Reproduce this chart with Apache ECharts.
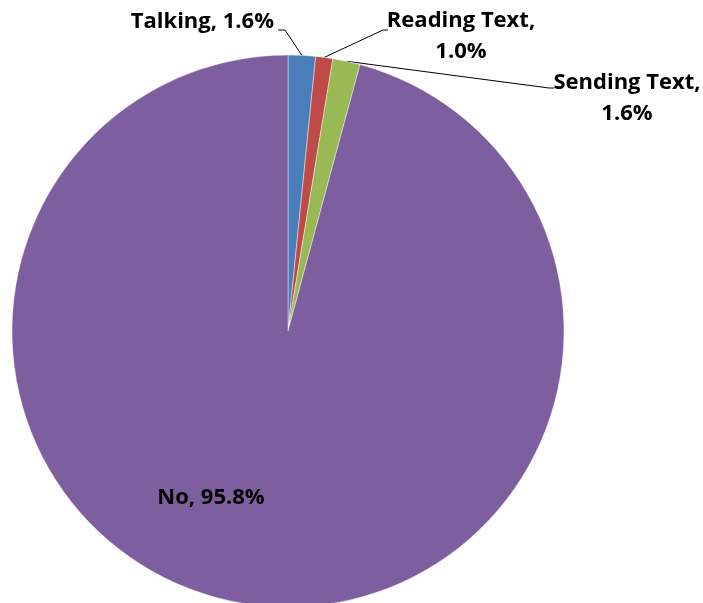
<!DOCTYPE html>
<html>
<head>
<meta charset="utf-8">
<script src="https://cdn.jsdelivr.net/npm/echarts@6/dist/echarts.min.js"></script>
<style>html,body{margin:0;padding:0;background:#fff}#chart{width:703px;height:603px}</style>
</head>
<body>
<div id="chart"></div>
<script>
var categories = ['Talking', 'Reading Text', 'Sending Text', 'No'];
var values = [1.6, 1.0, 1.6, 95.8];
var colors = ['#4A7EBB', '#BE4B48', '#98B954', '#7D5FA0'];

var chart = echarts.init(document.getElementById('chart'), null, {renderer: 'canvas'});

// label placement (styling only)
var labelPos = [
  {x: 274, y: 22, align: 'right', elbow: [285, 30], end: [278, 30]},
  {x: 461, y: 36, align: 'center', elbow: [383, 30], end: [388, 30]},
  {x: 627, y: 98, align: 'center', elbow: [549, 88], end: [554, 88]},
  {x: 211, y: 498, align: 'center'}
];

var data = categories.map(function (c, i) {
  return {
    name: c,
    value: values[i],
    itemStyle: {color: colors[i]},
    label: i === 3 ? {position: 'inside'} : {position: 'outside'},
    labelLine: {show: i !== 3}
  };
});

chart.setOption({
  animation: false,
  series: [{
    type: 'pie',
    center: [288, 331],
    radius: 276,
    startAngle: 90,
    clockwise: true,
    avoidLabelOverlap: false,
    data: data,
    itemStyle: {borderColor: 'rgba(255,255,255,0.7)', borderWidth: 0.6},
    label: {
      show: true,
      fontFamily: 'Open Sans',
      fontWeight: 'bold',
      fontSize: 22,
      color: '#000',
      lineHeight: 31,
      formatter: function (p) {
        var sep = (p.dataIndex === 1 || p.dataIndex === 2) ? ',\n' : ', ';
        return p.name + sep + p.value.toFixed(1) + '%';
      }
    },
    labelLine: {
      show: true,
      length: 10,
      length2: 5,
      lineStyle: {color: '#000', width: 1}
    },
    labelLayout: function (params) {
      var lp = labelPos[params.dataIndex];
      var out = {x: lp.x, y: lp.y, align: lp.align, verticalAlign: 'middle'};
      if (lp.elbow && params.labelLinePoints) {
        var a = params.labelLinePoints[0];
        out.labelLinePoints = [a, lp.elbow, lp.end];
      }
      return out;
    }
  }]
});
</script>
</body>
</html>
